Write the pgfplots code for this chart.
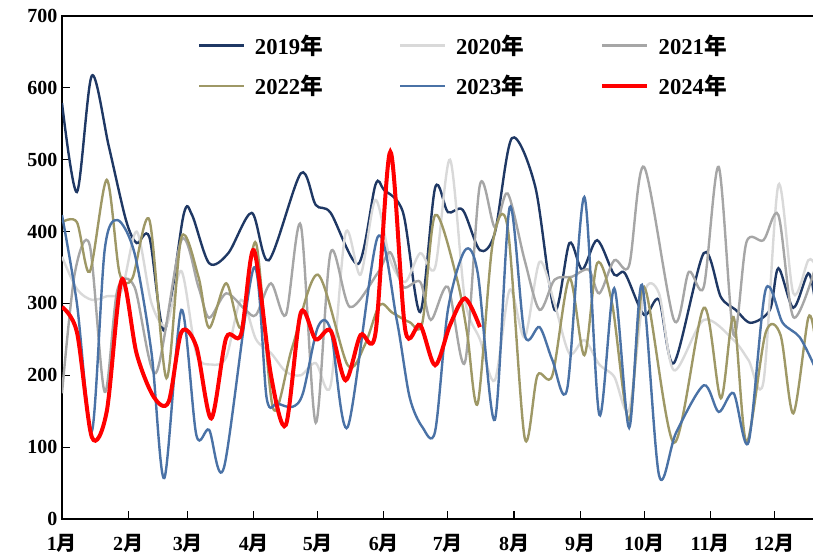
\documentclass[border=0pt]{standalone}
\usepackage{fontspec}
\setmainfont{Liberation Serif}
\newfontfamily\cjk{Noto Sans CJK SC}
\usepackage{pgfplots}
\pgfplotsset{compat=1.18}

\definecolor{c2019}{RGB}{31,56,100}
\definecolor{c2020}{RGB}{217,217,217}
\definecolor{c2021}{RGB}{166,166,166}
\definecolor{c2022}{RGB}{158,152,102}
\definecolor{c2023}{RGB}{74,114,166}
\definecolor{c2024}{RGB}{255,0,0}

\newcommand{\nian}{{\cjk 年}}
\newcommand{\yue}{{\cjk 月}}

\begin{document}
\begin{tikzpicture}
\useasboundingbox (0,0) rectangle (609.75pt,416.25pt);
\begin{axis}[
    at={(46.5pt,27pt)}, anchor=south west,
    scale only axis,
    width=564pt, height=377.25pt,
    xmin=0, xmax=352.7,
    ymin=0, ymax=700,
    ytick={0,100,...,700},
    xtick={0,31,59,90,120,151,181,212,243,273,304,334},
    xticklabels={1\yue,2\yue,3\yue,4\yue,5\yue,6\yue,7\yue,8\yue,9\yue,10\yue,11\yue,12\yue},
    tick pos=left,
    tick align=inside,
    major tick length=6pt,
    axis line style={black, line width=0.8pt},
    tick style={black, line width=0.8pt},
    /pgf/number format/assume math mode=true,
    ticklabel style={font=\fontsize{15pt}{17pt}\selectfont\bfseries},
    xticklabel style={yshift=-8pt},
    legend columns=3,
    legend cell align=left,
    legend image code/.code={\draw[#1] (0pt,0pt) -- (34pt,0pt);},
    legend style={at={(0.175,0.974)}, anchor=north west, draw=none, fill=none,
        font=\fontsize{17pt}{19pt}\selectfont\bfseries, row sep=10.5pt,
        /tikz/every odd column/.append style={column sep=5pt},
        /tikz/every even column/.append style={column sep=55pt}},
    every axis plot/.append style={smooth, line width=1.8pt},
]
% 2019
\addplot[c2019] coordinates {
(0,579)(7,455)(14,617)(22,518)(30,416)(35,384)(41,392)(48,262)(57,423)(61,423)
(69,356)(78,370)(89,426)(97,360)(112,481)(119,437)(126,426)(139,355)(147,465)
(151,458)(160,426)(168,288)(175,461)(181,427)(188,430)(196,374)(203,398)(211,530)
(222,462)(231,291)(238,384)(244,347)(251,388)(259,340)(264,342)(273,284)(280,305)
(287,217)(301,370)(309,309)(316,291)(323,273)(332,291)(336,349)(343,294)(350,342)(353,307)
};
\addlegendentry{2019\nian}
% 2020
\addplot[c2020] coordinates {
(0,365)(7,320)(14,305)(21,310)(28,318)(35,400)(42,300)(49,270)(56,345)(63,230)
(70,215)(77,225)(84,305)(91,250)(98,231)(105,205)(112,200)(119,217)(126,186)
(133,398)(140,340)(147,444)(154,360)(161,330)(168,370)(175,350)(182,500)(189,305)
(196,250)(203,193)(210,319)(217,253)(224,358)(231,300)(238,230)(245,249)(252,215)
(259,198)(266,152)(273,314)(280,314)(287,207)(301,277)(315,249)(322,221)(329,191)
(336,465)(343,314)(350,360)(353,355)
};
\addlegendentry{2020\nian}
% 2021
\addplot[c2021] coordinates {
(0,175)(6,342)(13,381)(20,177)(26,319)(34,323)(44,203)(56,388)(64,323)(69,280)
(77,314)(86,291)(91,284)(98,328)(105,284)(112,409)(119,134)(126,371)(135,295)
(148,342)(154,371)(160,323)(168,330)(173,277)(181,323)(189,218)(196,465)(203,406)
(209,453)(217,360)(224,291)(231,333)(239,337)(247,347)(252,314)(259,360)(266,353)
(273,490)(287,277)(294,344)(301,323)(308,490)(315,256)(321,385)(329,388)(336,423)
(343,281)(353,347)
};
\addlegendentry{2021\nian}
% 2022
\addplot[c2022] coordinates {
(0,413)(7,413)(13,344)(21,472)(27,342)(33,335)(41,416)(49,196)(56,392)(64,337)
(69,266)(77,328)(84,266)(91,384)(99,154)(108,239)(120,340)(134,214)(142,242)
(149,298)(155,287)(163,274)(169,273)(175,423)(185,337)(190,259)(195,161)(202,384)
(209,406)(217,113)(223,200)(230,200)(238,335)(245,228)(251,356)(258,300)(266,138)
(273,323)(287,106)(301,294)(309,168)(315,281)(321,107)(330,259)(337,256)(343,147)
(350,280)(353,255)
};
\addlegendentry{2022\nian}
% 2023
\addplot[c2023] coordinates {
(0,423)(7,300)(14,122)(20,374)(26,416)(34,370)(42,231)(48,57)(56,291)(63,117)
(69,124)(76,72)(90,350)(96,168)(101,161)(108,156)(113,175)(120,267)(126,263)
(134,128)(148,392)(157,277)(163,170)(169,128)(175,122)(181,291)(189,374)(195,342)
(203,138)(210,434)(217,256)(224,267)(230,221)(237,182)(245,448)(252,145)(259,321)
(266,127)(272,326)(280,61)(288,120)(301,186)(308,149)(315,175)(322,107)(330,319)
(338,273)(346,253)(353,212)
};
\addlegendentry{2023\nian}
% 2024
\addplot[c2024, line width=3pt] coordinates {
(0,295)(7,260)(14,114)(21,150)(28,333)(35,230)(43,170)(50,163)(56,260)(63,240)
(70,140)(77,252)(84,257)(90,374)(98,200)(105,131)(112,287)(119,250)(126,262)
(133,193)(140,256)(147,258)(154,511)(161,263)(168,270)(175,214)(182,270)(189,307)(196,267)
};
\addlegendentry{2024\nian}
\end{axis}
\end{tikzpicture}
\end{document}
